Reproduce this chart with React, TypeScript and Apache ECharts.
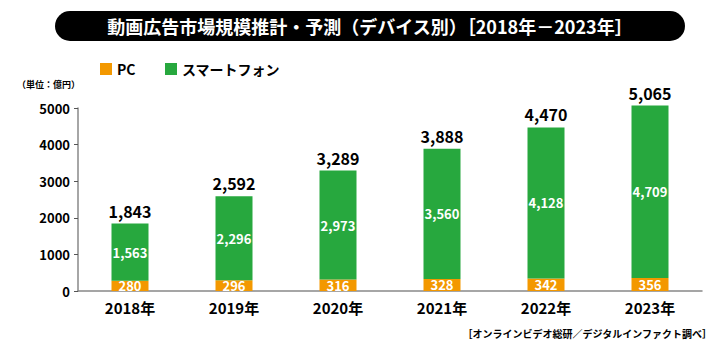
import React, { useEffect, useRef } from "react";
import * as echarts from "echarts";

const years = ["2018年", "2019年", "2020年", "2021年", "2022年", "2023年"];
const pcValues = [280, 296, 316, 328, 342, 356];
const phoneValues = [1563, 2296, 2973, 3560, 4128, 4709];
const totals = [1843, 2592, 3289, 3888, 4470, 5065];
const yTicks = [0, 1000, 2000, 3000, 4000, 5000];

const FONT = "'Noto Sans CJK JP', 'Noto Sans', sans-serif";
const ORANGE = "#F39800";
const GREEN = "#27A83E";
const fmt = (v: number) => v.toLocaleString("en-US");

export default function App() {
  const ref = useRef<HTMLDivElement>(null);
  useEffect(() => {
    if (!ref.current) return;
    const chart = echarts.init(ref.current, undefined, { renderer: "svg" });
    chart.setOption({
      animation: false,
      textStyle: { fontFamily: FONT },
      grid: { left: 78, right: 23, top: 108, bottom: 64 },
      graphic: [
        {
          type: "rect",
          shape: { x: 55, y: 11, width: 630, height: 30, r: 15 },
          style: { fill: "#000" },
        },
        {
          type: "text",
          x: 370,
          y: 26,
          style: {
            text: "動画広告市場規模推計・予測（デバイス別）［2018年－2023年］",
            fill: "#fff",
            font: `bold 18px ${FONT}`,
            align: "center",
            verticalAlign: "middle",
          },
        },
        { type: "rect", shape: { x: 100, y: 63, width: 12, height: 12 }, style: { fill: ORANGE } },
        {
          type: "text",
          x: 117,
          y: 69,
          style: { text: "PC", fill: "#000", font: `bold 14px ${FONT}`, verticalAlign: "middle" },
        },
        { type: "rect", shape: { x: 165, y: 63, width: 12, height: 12 }, style: { fill: GREEN } },
        {
          type: "text",
          x: 182,
          y: 69,
          style: { text: "スマートフォン", fill: "#000", font: `bold 14px ${FONT}`, verticalAlign: "middle" },
        },
        {
          type: "text",
          x: 17,
          y: 84,
          style: { text: "（単位：億円）", fill: "#000", font: `bold 9px ${FONT}`, verticalAlign: "middle" },
        },
        {
          type: "text",
          x: 712,
          y: 333,
          style: {
            text: "［オンラインビデオ総研／デジタルインファクト調べ］",
            fill: "#000",
            font: `bold 10px ${FONT}`,
            align: "right",
            verticalAlign: "middle",
          },
        },
      ],
      xAxis: {
        type: "category",
        data: years,
        axisLine: { lineStyle: { color: "#888", width: 1.5 } },
        axisTick: { inside: true, length: 3, lineStyle: { color: "#555" } },
        axisLabel: { color: "#000", fontWeight: "bold", fontSize: 15, fontFamily: FONT, margin: 9 },
      },
      yAxis: {
        type: "value",
        min: 0,
        max: 5000,
        interval: 1000,
        splitLine: { show: false },
        axisLine: { show: true, lineStyle: { color: "#888", width: 1.5 } },
        axisTick: { show: true, length: 4, lineStyle: { color: "#555" } },
        axisLabel: {
          color: "#000",
          fontWeight: "bold",
          fontSize: 13,
          fontFamily: FONT,
          margin: 8,
          formatter: (v: number) => (yTicks.includes(v) ? String(v) : ""),
        },
      },
      series: [
        {
          name: "PC",
          type: "bar",
          stack: "t",
          data: pcValues,
          barWidth: 37,
          clip: false,
          itemStyle: { color: ORANGE },
          label: {
            show: true,
            position: "inside",
            color: "#fff",
            fontWeight: "bold",
            fontSize: 13,
            fontFamily: FONT,
            formatter: (p: any) => fmt(p.value),
          },
        },
        {
          name: "スマートフォン",
          type: "bar",
          stack: "t",
          data: phoneValues,
          barWidth: 37,
          clip: false,
          itemStyle: { color: GREEN },
          label: {
            show: true,
            position: "inside",
            color: "#fff",
            fontWeight: "bold",
            fontSize: 13,
            fontFamily: FONT,
            formatter: (p: any) => fmt(p.value),
          },
        },
        {
          name: "total",
          type: "bar",
          stack: "t",
          data: totals.map(() => 0),
          barWidth: 37,
          clip: false,
          itemStyle: { color: "transparent" },
          label: {
            show: true,
            position: "top",
            distance: 5,
            color: "#000",
            fontWeight: "bold",
            fontSize: 16,
            fontFamily: FONT,
            formatter: (p: any) => fmt(totals[p.dataIndex]),
          },
        },
      ],
    });
    return () => chart.dispose();
  }, []);
  return <div ref={ref} style={{ position: "absolute", left: 0, top: 0, width: 725, height: 355 }} />;
}
